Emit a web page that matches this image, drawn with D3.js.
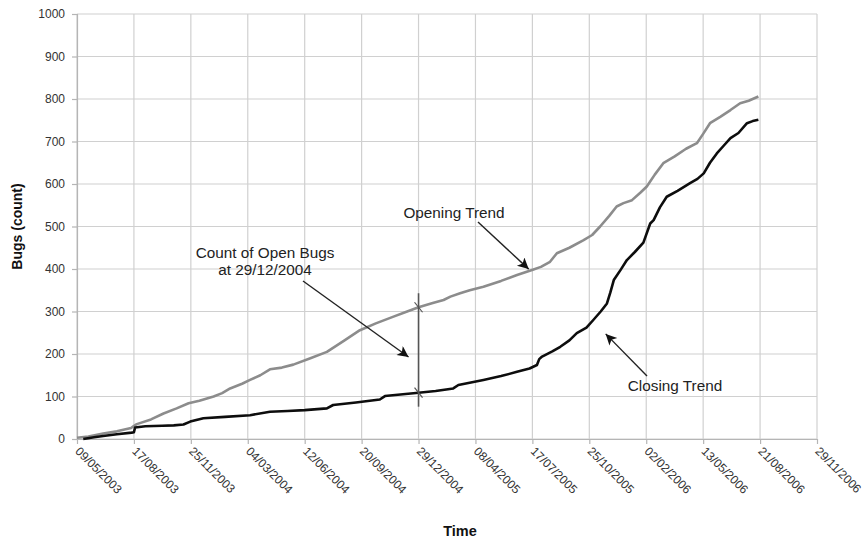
<!DOCTYPE html>
<html>
<head>
<meta charset="utf-8">
<script src="https://cdn.jsdelivr.net/npm/d3@7"></script>
<style>
  html, body { margin: 0; padding: 0; background: #fff; }
  svg { display: block; font-family: Arial, "Liberation Sans", sans-serif; }
</style>
</head>
<body>
<svg id="chart" width="866" height="542"></svg>
<script>
// Cumulative bug counts, sampled as (days since 09/05/2003, count)
const startDate = new Date(Date.UTC(2003, 4, 9));

const openingDays = [0, 20, 46, 70, 95, 99, 105, 130, 152, 175, 196, 215, 240, 255, 269, 290, 304, 322, 339, 360, 380, 410, 439, 470, 497, 525, 556, 580, 600, 625, 644, 656, 673, 690, 714, 745, 773, 802, 815, 831, 843, 865, 890, 905, 919, 935, 948, 960, 975, 990, 1001, 1015, 1030, 1050, 1070, 1089, 1100, 1112, 1130, 1148, 1165, 1180, 1197];
const openingCounts = [3, 6, 13, 18, 26, 30, 35, 46, 60, 72, 84, 90, 100, 108, 119, 130, 139, 150, 164, 168, 175, 190, 205, 232, 256, 272, 288, 300, 310, 320, 327, 335, 343, 350, 358, 372, 386, 399, 405, 417, 437, 450, 468, 480, 500, 525, 547, 555, 562, 580, 594, 622, 649, 665, 683, 696, 718, 743, 758, 774, 790, 796, 806];

const closingDays = [11, 30, 46, 70, 96, 100, 102, 120, 150, 170, 187, 199, 222, 260, 304, 339, 370, 400, 439, 450, 490, 532, 541, 600, 630, 661, 670, 714, 745, 773, 795, 808, 812, 817, 835, 849, 865, 878, 895, 907, 920, 931, 937, 943, 955, 966, 980, 995, 1007, 1013, 1024, 1036, 1055, 1077, 1090, 1101, 1112, 1124, 1136, 1148, 1162, 1177, 1187, 1197];
const closingCounts = [0, 4, 7, 11, 15, 16, 27, 30, 31, 32, 34, 41, 49, 52, 56, 64, 66, 68, 72, 80, 86, 93, 101, 109, 113, 119, 127, 139, 148, 158, 166, 174, 188, 194, 206, 217, 232, 249, 262, 280, 300, 319, 345, 374, 398, 421, 440, 462, 507, 515, 545, 570, 584, 602, 612, 625, 650, 672, 690, 708, 720, 743, 748, 751];

// Axis ticks: every 100 days on x, every 100 bugs on y
const xTickDays = [0, 100, 200, 300, 400, 500, 600, 700, 800, 900, 1000, 1100, 1200, 1300];
const yTicks = [0, 100, 200, 300, 400, 500, 600, 700, 800, 900, 1000];

// Annotated snapshot date (29/12/2004)
const markerDay = 600;

const dayToDate = d => d3.utcDay.offset(startDate, d);
const opening = openingDays.map((d, i) => ({ date: dayToDate(d), value: openingCounts[i] }));
const closing = closingDays.map((d, i) => ({ date: dayToDate(d), value: closingCounts[i] }));

const plot = { left: 77, right: 817, top: 14, bottom: 439 };

const x = d3.scaleUtc()
  .domain([startDate, dayToDate(1300)])
  .range([plot.left, plot.right]);
const y = d3.scaleLinear()
  .domain([0, 1000])
  .range([plot.bottom, plot.top]);

const svg = d3.select("#chart");
const fmt = d3.utcFormat("%d/%m/%Y");

// Arrowhead marker
svg.append("defs").append("marker")
  .attr("id", "arrow")
  .attr("viewBox", "0 0 10 10")
  .attr("refX", 10).attr("refY", 5)
  .attr("markerUnits", "userSpaceOnUse")
  .attr("markerWidth", 15).attr("markerHeight", 11)
  .attr("orient", "auto")
  .append("path").attr("d", "M0,0 L10,5 L0,10 L2.5,5 Z").attr("fill", "#111");

// Gridlines
const grid = svg.append("g");
grid.selectAll(".hg").data(yTicks).join("line")
  .attr("x1", plot.left).attr("x2", plot.right)
  .attr("y1", d => y(d)).attr("y2", d => y(d))
  .attr("stroke", "#d0d0d0").attr("stroke-width", 1.2);
grid.selectAll(".vg").data(xTickDays).join("line")
  .attr("x1", d => x(dayToDate(d))).attr("x2", d => x(dayToDate(d)))
  .attr("y1", plot.top).attr("y2", plot.bottom)
  .attr("stroke", "#d0d0d0").attr("stroke-width", 1.2);

// Y axis
const yAxis = svg.append("g")
  .attr("transform", `translate(${plot.left},0)`)
  .call(d3.axisLeft(y).tickValues(yTicks).tickFormat(d3.format("d")).tickSize(5).tickPadding(7));
yAxis.select(".domain").attr("stroke", "#b5b5b5").attr("stroke-width", 1.2);
yAxis.selectAll(".tick line").attr("stroke", "#b5b5b5").attr("stroke-width", 1.2);
yAxis.selectAll("text").attr("font-size", 12).attr("fill", "#333")
  .attr("font-family", "Arial, 'Liberation Sans', sans-serif");

// X axis with rotated date labels
const xAxis = svg.append("g")
  .attr("transform", `translate(0,${plot.bottom})`)
  .call(d3.axisBottom(x).tickValues(xTickDays.map(dayToDate)).tickFormat(fmt).tickSize(5).tickSizeOuter(0));
xAxis.select(".domain").attr("stroke", "#b5b5b5").attr("stroke-width", 1.2);
xAxis.selectAll(".tick line").attr("stroke", "#b5b5b5").attr("stroke-width", 1.2);
xAxis.selectAll("text")
  .attr("font-size", 12).attr("fill", "#333")
  .attr("font-family", "Arial, 'Liberation Sans', sans-serif")
  .attr("text-anchor", "start")
  .attr("dy", null)
  .attr("y", 0).attr("x", 0)
  .attr("transform", "translate(-3,13) rotate(45)");

// Trend lines
const line = d3.line().x(d => x(d.date)).y(d => y(d.value));
svg.append("path").datum(opening)
  .attr("d", line).attr("fill", "none")
  .attr("stroke", "#8c8c8c").attr("stroke-width", 2.6).attr("stroke-linejoin", "round");
svg.append("path").datum(closing)
  .attr("d", line).attr("fill", "none")
  .attr("stroke", "#0d0d0d").attr("stroke-width", 2.6).attr("stroke-linejoin", "round");

// Open-bug count at the snapshot date
const mx = x(dayToDate(markerDay));
const openAt = d3.scaleLinear().domain(openingDays).range(openingCounts)(markerDay);
const closeAt = d3.scaleLinear().domain(closingDays).range(closingCounts)(markerDay);
const ann = svg.append("g");
ann.append("line")
  .attr("x1", mx).attr("x2", mx)
  .attr("y1", y(openAt) - 14).attr("y2", y(closeAt) + 14)
  .attr("stroke", "#555").attr("stroke-width", 1.6);
[openAt, closeAt].forEach(v => {
  ann.append("line")
    .attr("x1", mx - 4).attr("x2", mx + 4)
    .attr("y1", y(v) - 5).attr("y2", y(v) + 5)
    .attr("stroke", "#555").attr("stroke-width", 1.2);
});

// Annotation labels and arrows
const label = (tx, ty, s) => svg.append("text")
  .attr("x", tx).attr("y", ty).attr("text-anchor", "middle")
  .attr("font-size", 15.3).attr("fill", "#222").text(s);
const arrow = (x1, y1, x2, y2) => svg.append("line")
  .attr("x1", x1).attr("y1", y1).attr("x2", x2).attr("y2", y2)
  .attr("stroke", "#222").attr("stroke-width", 1.4).attr("marker-end", "url(#arrow)");

label(454, 218, "Opening Trend");
arrow(478, 222, x(dayToDate(790)) + 2, y(395) - 2);

label(265, 258, "Count of Open Bugs");
label(265, 275, "at 29/12/2004");
arrow(303, 281, mx - 10, y(200) + 3);

label(675, 391, "Closing Trend");
arrow(647, 376, x(dayToDate(927)) + 1, y(245) - 1);

// Axis titles
svg.append("text")
  .attr("transform", `translate(22,${(plot.top + plot.bottom) / 2}) rotate(-90)`)
  .attr("text-anchor", "middle").attr("font-size", 14).attr("font-weight", "bold")
  .attr("fill", "#111").text("Bugs (count)");
svg.append("text")
  .attr("x", 460).attr("y", 536).attr("text-anchor", "middle")
  .attr("font-size", 14.5).attr("font-weight", "bold").attr("fill", "#111").text("Time");
</script>
</body>
</html>
